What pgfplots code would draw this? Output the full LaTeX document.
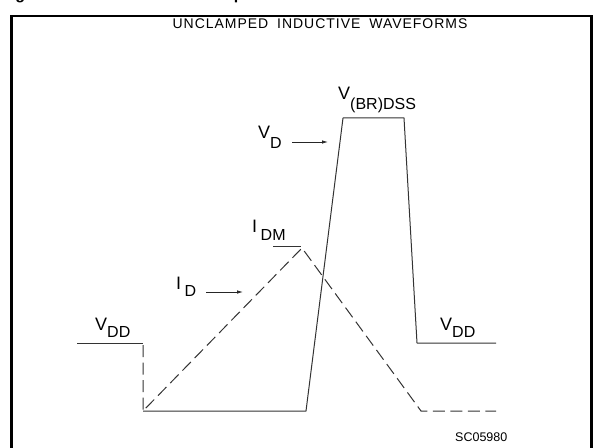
\documentclass[border=0pt]{standalone}
\usepackage{pgfplots}
\pgfplotsset{compat=1.18}
\usepackage{fontspec}
\setmainfont{Liberation Sans}
\newfontfamily\cad[LetterSpace=7]{Liberation Sans}
\usetikzlibrary{arrows.meta}

% label with a lowered subscript, drafting style: #1 = drop of the subscript
\newcommand{\lbl}[3]{{\fontsize{18bp}{20bp}\selectfont #2\raisebox{-#1bp}{\fontsize{16bp}{18bp}\selectfont #3}}}

\begin{document}
\begin{tikzpicture}
\useasboundingbox (0,0) rectangle (595bp,448bp);
\clip (0,0) rectangle (595bp,448bp);
\begin{axis}[
  scale only axis, width=595bp, height=448bp,
  xmin=0, xmax=595, ymin=0, ymax=448, y dir=reverse,
  hide axis, clip=false,
]
% caption line of the figure, running above the frame
\node[anchor=base west, font=\bfseries\fontsize{16bp}{18bp}\selectfont, inner sep=0]
  at (axis cs:1,0) {Figure 13.};
\node[anchor=base west, font=\bfseries\fontsize{16bp}{18bp}\selectfont, inner sep=0]
  at (axis cs:176,0) {Unclamped inductive waveform};
% frame
\draw[line width=2.6bp, black] (axis cs:11.5,465) -- (axis cs:11.5,16) -- (axis cs:591.5,16) -- (axis cs:591.5,465);

% drain voltage V_D (solid)
\addplot[line width=1bp, black!80, line join=round] coordinates {
  (77,343) (143,343)
};
\addplot[line width=1bp, black!80, line join=round] coordinates {
  (143,411) (306,411) (343,118) (404,118) (417,343) (496,343)
};
% drain current I_D (dashed)
\addplot[line width=1bp, black!80, dash pattern=on 12bp off 5.5bp] coordinates {
  (143,345) (143,411) (302,248) (421,411) (496,411)
};
% peak current level I_DM
\addplot[line width=1bp, black!80] coordinates {(273,246) (301,246)};

% labels
\node[anchor=base, inner sep=0, font=\cad\fontsize{14bp}{16bp}\selectfont]
  at (axis cs:320,28.5) {UNCLAMPED\hspace{4bp} INDUCTIVE\hspace{4bp} WAVEFORMS};
\node[anchor=base west, inner sep=0] at (axis cs:338,99) {\lbl{10}{V}{(BR)DSS}};
\node[anchor=base west, inner sep=0] at (axis cs:258,138) {\lbl{10}{V}{D}};
\node[anchor=base west, inner sep=0] at (axis cs:252,232) {\lbl{8}{I\hspace{3.5bp}}{DM}};
\node[anchor=base west, inner sep=0] at (axis cs:176,289) {\lbl{7}{I\hspace{3.5bp}}{D}};
\node[anchor=base west, inner sep=0] at (axis cs:95,330) {\lbl{7}{V}{DD}};
\node[anchor=base west, inner sep=0] at (axis cs:440,330) {\lbl{7}{V}{DD}};
\node[anchor=base west, inner sep=0, font=\fontsize{12.5bp}{14bp}\selectfont]
  at (axis cs:455,441) {SC05980};

% pointer arrows
\draw[line width=0.8bp, black!85, -{Latex[length=6bp,width=3.5bp]}] (axis cs:292,142) -- (axis cs:328,142);
\draw[line width=0.8bp, black!85, -{Latex[length=6bp,width=3.5bp]}] (axis cs:206,292) -- (axis cs:243,292);
\end{axis}
\end{tikzpicture}
\end{document}
